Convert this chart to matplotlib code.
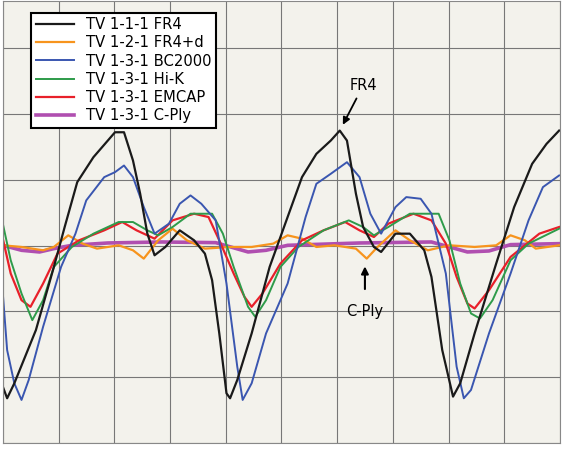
import numpy as np
import matplotlib.pyplot as plt

# traces, as (x, y) readings; converted to divisions below
fr4 = [(8,1160),(20,1195),(40,1150),(100,990),(150,800),(180,680),(215,545),(260,470),(300,420),(320,395),(345,395),(370,480),(390,580),(410,700),(430,765),(460,740),(500,690),(540,720),(570,760),(590,840),(610,1000),(630,1180),(640,1195),(660,1140),(700,1000),(750,800),(800,650),(840,530),(880,460),(920,420),(945,390),(965,420),(990,580),(1010,680),(1040,740),(1060,755),(1100,700),(1140,700),(1180,750),(1200,830),(1230,1050),(1260,1190),(1280,1150),(1320,1000),(1380,790),(1430,620),(1480,490),(1520,430),(1555,390)]
fr4d = [(8,735),(60,740),(120,750),(150,740),(190,705),(230,730),(270,745),(330,735),(370,750),(400,775),(440,720),(480,685),(520,720),(570,745),(640,740),(700,740),(760,730),(800,705),(840,715),(880,740),(930,735),(990,745),(1020,775),(1050,740),(1100,690),(1140,720),(1190,750),(1250,735),(1320,740),(1380,735),(1420,705),(1460,720),(1490,745),(1555,735)]
bc2000 = [(8,880),(20,1050),(40,1150),(60,1200),(80,1140),(120,980),(170,800),(210,700),(240,600),(290,530),(320,515),(345,495),(370,530),(400,620),(430,700),(470,670),(500,610),(530,585),(560,610),(600,660),(630,850),(660,1100),(675,1200),(700,1150),(740,1000),(800,850),(850,650),(880,550),(920,520),(965,485),(1000,530),(1030,640),(1060,700),(1100,620),(1130,590),(1170,595),(1200,640),(1240,820),(1270,1100),(1290,1195),(1310,1170),(1360,1000),(1420,820),(1470,660),(1510,560),(1555,525)]
hik = [(8,670),(30,780),(60,880),(90,960),(120,900),(150,800),(200,740),(260,700),(330,665),(370,665),(410,690),(440,705),(480,680),(530,640),(590,640),(620,700),(650,800),(690,920),(710,950),(740,900),(780,800),(830,740),(900,690),(970,660),(1010,680),(1040,705),(1080,680),(1140,640),(1220,640),(1250,720),(1280,850),(1310,940),(1335,955),(1370,900),(1420,780),(1470,730),(1555,685)]
emcap = [(8,715),(30,820),(60,900),(85,920),(120,850),(160,760),(220,720),(290,690),(340,665),(380,690),(430,715),(480,660),(540,640),(580,650),(610,720),(650,820),(680,890),(700,920),(730,880),(780,790),(840,720),(900,690),(960,665),(1000,690),(1040,710),(1080,670),(1150,640),(1200,660),(1240,730),(1270,830),(1300,910),(1320,925),(1360,870),(1420,770),(1500,700),(1555,680)]
cply = [(8,735),(60,750),(110,755),(150,745),(200,735),(300,728),(450,725),(600,727),(690,755),(740,750),(800,735),(1000,728),(1200,725),(1300,755),(1360,752),(1420,733),(1555,730)]

labels = ["TV 1-1-1 FR4", "TV 1-2-1 FR4+d", "TV 1-3-1 BC2000", "TV 1-3-1 Hi-K", "TV 1-3-1 EMCAP", "TV 1-3-1 C-Ply"]
colors = ["#1a1a1a", "#f7941d", "#3a56b0", "#2e9b4a", "#e8202a", "#b04fb0"]
widths = [1.6, 1.6, 1.4, 1.4, 1.6, 2.6]

def div(pts):
    a = np.array(pts, dtype=float)
    return (a[:, 0] - 8) / 155, (1330 - a[:, 1]) / 198

fig = plt.figure(figsize=(5.63, 4.49), dpi=100)
fig.patch.set_facecolor("white")
ax = fig.add_axes([0.005, 0.013, 0.99, 0.985])
ax.set_facecolor("#f3f2ec")

order = [cply, fr4d, emcap, hik, bc2000, fr4]
idx = [5, 1, 4, 3, 2, 0]
handles = {}
for pts, i in zip(order, idx):
    x, y = div(pts)
    handles[i], = ax.plot(x, y, color=colors[i], lw=widths[i], label=labels[i])

ax.set_xlim(0, 10)
ax.set_ylim(0, 1330 / 198)
ax.set_xticks(np.arange(0, 11))
ax.set_yticks(np.arange(0, 7))
ax.grid(True, color="#777777", lw=0.8)
ax.tick_params(length=0, labelbottom=False, labelleft=False)
for s in ax.spines.values():
    s.set_color("#888888")

leg = ax.legend([handles[i] for i in range(6)], labels, loc="upper left",
                bbox_to_anchor=(0.038, 0.99), fontsize=10.6, frameon=True,
                fancybox=False, framealpha=1, edgecolor="black",
                handlelength=2.6, labelspacing=0.22, borderpad=0.3)
leg.get_frame().set_linewidth(1.5)

ax.annotate("FR4", xy=((950-8)/155, (1330-380)/198), xytext=((1010-8)/155, (1330-255)/198),
            ha="center", va="center", fontsize=10.5,
            arrowprops=dict(arrowstyle="-|>", color="black", lw=1.3))
ax.annotate("C-Ply", xy=((1015-8)/155, (1330-790)/198), xytext=((1015-8)/155, (1330-935)/198),
            ha="center", va="center", fontsize=10.5,
            arrowprops=dict(arrowstyle="-|>", color="black", lw=1.5, shrinkA=9))

fig.savefig("out.png", dpi=100)
